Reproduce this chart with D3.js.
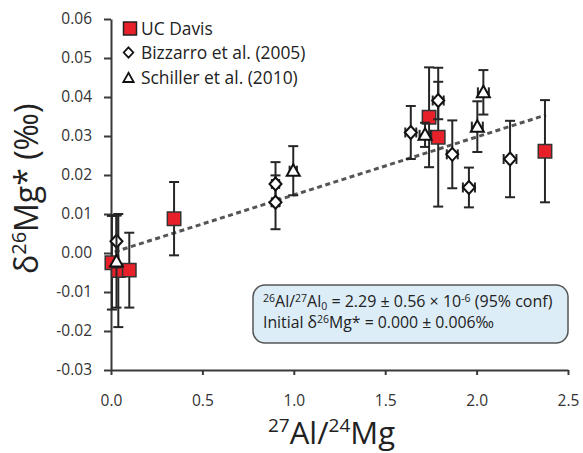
<!DOCTYPE html>
<html>
<head>
<meta charset="utf-8">
<script src="https://cdn.jsdelivr.net/npm/d3@7"></script>
<style>
  body { margin: 0; background: #fff; }
  text { font-family: "Open Sans", sans-serif; }
</style>
</head>
<body>
<div id="chart"></div>
<script>
// UC Davis (red squares)
var ucX   = [0.005, 0.04, 0.10, 0.345, 1.74, 1.79, 2.374];
var ucY   = [-0.0025, -0.0045, -0.0044, 0.0088, 0.0348, 0.0297, 0.0261];
var ucErr = [0.012, 0.0145, 0.0096, 0.0094, 0.0128, 0.0178, 0.0131];

// Bizzarro et al. (2005) (open diamonds)
var bzX    = [0.03, 0.90, 0.90, 1.64, 1.79, 1.867, 1.958, 2.183];
var bzY    = [0.003, 0.0177, 0.0130, 0.0309, 0.0391, 0.0253, 0.0168, 0.0241];
var bzErr  = [0.0067, 0.0056, 0.0069, 0.0068, 0.0048, 0.0087, 0.0051, 0.0098];
var bzXErr = [0, 0.02, 0.02, 0.03, 0.03, 0.03, 0.033, 0.035];

// Schiller et al. (2010) (open triangles)
var scX    = [0.03, 0.997, 1.718, 2.004, 2.037];
var scY    = [-0.0022, 0.0211, 0.0303, 0.0324, 0.0412];
var scErr  = [0.0118, 0.0063, 0.0031, 0.0065, 0.0057];
var scXErr = [0, 0.02, 0.03, 0.03, 0.03];

// isochron fit, end points
var fitX = [0.02, 2.38];
var fitY = [0.0003, 0.0354];

var xTicks = [0, 0.5, 1.0, 1.5, 2.0, 2.5];
var yTicks = [-0.03, -0.02, -0.01, 0, 0.01, 0.02, 0.03, 0.04, 0.05, 0.06];
var legendNames = ["UC Davis", "Bizzarro et al. (2005)", "Schiller et al. (2010)"];

(function(){
  "use strict";
  var width = 583, height = 453;
  var ink = "#262626";

  var svg = d3.select("#chart").append("svg")
      .attr("width", width)
      .attr("height", height);

  var x = d3.scaleLinear().domain([0, 2.5]).range([111, 568]);
  var y = d3.scaleLinear().domain([-0.03, 0.06]).range([370, 19]);

  // axes
  var gx = svg.append("g")
      .attr("transform", "translate(0," + y(-0.03) + ")")
      .call(d3.axisBottom(x).tickValues(xTicks).tickSize(5).tickSizeOuter(0)
        .tickPadding(20).tickFormat(function(d){ return d.toFixed(1); }));
  var gy = svg.append("g")
      .attr("transform", "translate(" + x(0) + ",0)")
      .call(d3.axisLeft(y).tickValues(yTicks).tickSize(7).tickSizeOuter(0)
        .tickPadding(12).tickFormat(function(d){ return d.toFixed(2); }));
  [gx, gy].forEach(function(g){
    g.select(".domain").attr("stroke", "#3a3a3a").attr("stroke-width", 2);
    g.selectAll(".tick line").attr("stroke", "#3a3a3a").attr("stroke-width", 2);
    g.selectAll(".tick text").attr("fill", "#333").style("font-size", "15.5px")
      .style("font-family", "'Open Sans', sans-serif");
  });

  // fit line
  var line = d3.line()
      .x(function(d){ return x(d[0]); })
      .y(function(d){ return y(d[1]); });
  svg.append("path")
      .attr("d", line(d3.zip(fitX, fitY)))
      .attr("fill", "none")
      .attr("stroke", "#555")
      .attr("stroke-width", 3)
      .attr("stroke-dasharray", "5,3.5");

  // error bars
  function errBars(xs, ys, es, xes) {
    var g = svg.append("g").attr("stroke", ink).attr("stroke-width", 2).attr("fill", "none");
    xs.forEach(function(xv, i){
      var cx = x(xv), t = y(ys[i] + es[i]), b = y(ys[i] - es[i]);
      g.append("line").attr("x1", cx).attr("x2", cx).attr("y1", t).attr("y2", b);
      g.append("line").attr("x1", cx - 5).attr("x2", cx + 5).attr("y1", t).attr("y2", t);
      g.append("line").attr("x1", cx - 5).attr("x2", cx + 5).attr("y1", b).attr("y2", b);
      if (xes && xes[i] > 0) {
        var l = x(xv - xes[i]), r = x(xv + xes[i]), cy = y(ys[i]);
        g.append("line").attr("x1", l).attr("x2", r).attr("y1", cy).attr("y2", cy);
        g.append("line").attr("x1", l).attr("x2", l).attr("y1", cy - 5).attr("y2", cy + 5);
        g.append("line").attr("x1", r).attr("x2", r).attr("y1", cy - 5).attr("y2", cy + 5);
      }
    });
  }

  var square = d3.symbol().type(d3.symbolSquare).size(180);
  var diamond = "M0,-6.5L6,0L0,6.5L-6,0Z";
  var triangle = "M0,-6.5L6.5,5L-6.5,5Z";

  function drawSquares(g, xs, ys) {
    g.selectAll("path.sq").data(d3.zip(xs, ys)).enter().append("path")
      .attr("class", "sq")
      .attr("d", square)
      .attr("transform", function(d){ return "translate(" + x(d[0]) + "," + y(d[1]) + ")"; })
      .attr("fill", "#e8202a").attr("stroke", "#333").attr("stroke-width", 1.5);
  }
  function drawShape(g, xs, ys, shape) {
    g.selectAll("path.pt").data(d3.zip(xs, ys)).enter().append("path")
      .attr("class", "pt")
      .attr("d", shape)
      .attr("transform", function(d){ return "translate(" + x(d[0]) + "," + y(d[1]) + ")"; })
      .attr("fill", "#fff").attr("stroke", "#111").attr("stroke-width", 2);
  }

  errBars(ucX, ucY, ucErr, null);
  drawSquares(svg.append("g"), ucX, ucY);
  errBars(bzX, bzY, bzErr, bzXErr);
  drawShape(svg.append("g"), bzX, bzY, diamond);
  errBars(scX, scY, scErr, scXErr);
  drawShape(svg.append("g"), scX, scY, triangle);

  // legend
  var lg = svg.append("g");
  lg.append("rect").attr("x", 123.5).attr("y", 22).attr("width", 13).attr("height", 13)
    .attr("fill", "#e8202a").attr("stroke", "#222").attr("stroke-width", 1.5);
  lg.append("path").attr("d", diamond).attr("transform", "translate(128.5,52.5) scale(0.8)")
    .attr("fill", "#fff").attr("stroke", "#111").attr("stroke-width", 2.2);
  lg.append("path").attr("d", triangle).attr("transform", "translate(128.5,78) scale(0.8)")
    .attr("fill", "#fff").attr("stroke", "#111").attr("stroke-width", 2.2);
  lg.selectAll("text").data(legendNames).enter().append("text")
    .attr("x", 141).attr("y", function(d, i){ return 35 + i * 24.3; })
    .attr("fill", "#222").style("font-size", "17.4px")
    .text(function(d){ return d; });

  // annotation box
  svg.append("rect").attr("x", 253).attr("y", 285).attr("width", 315).attr("height", 58)
    .attr("rx", 12).attr("fill", "#dcedf8").attr("stroke", "#555").attr("stroke-width", 1.5);
  var t1 = svg.append("text").attr("x", 263).attr("y", 307).attr("fill", "#222").style("font-size", "16px");
  t1.append("tspan").attr("font-size", "10.5px").attr("dy", "-5").text("26");
  t1.append("tspan").attr("dy", "5").text("Al/");
  t1.append("tspan").attr("font-size", "10.5px").attr("dy", "-5").text("27");
  t1.append("tspan").attr("dy", "5").text("Al");
  t1.append("tspan").attr("font-size", "10.5px").attr("dy", "3").text("0");
  t1.append("tspan").attr("dy", "-3").text(" = 2.29 \u00b1 0.56 \u00d7 10");
  t1.append("tspan").attr("font-size", "10.5px").attr("dy", "-5").text("-6");
  t1.append("tspan").attr("dy", "5").text(" (95% conf)");
  var t2 = svg.append("text").attr("x", 263).attr("y", 328).attr("fill", "#222").style("font-size", "15.8px");
  t2.append("tspan").text("Initial \u03b4");
  t2.append("tspan").attr("font-size", "10.5px").attr("dy", "-5").text("26");
  t2.append("tspan").attr("dy", "5").text("Mg* = 0.000 \u00b1 0.006\u2030");

  // axis titles
  var xt = svg.append("text").attr("x", 268).attr("y", 443.5).attr("fill", "#222").style("font-size", "31px");
  xt.append("tspan").attr("font-size", "19px").attr("dy", "-12").text("27");
  xt.append("tspan").attr("dy", "12").text("Al/");
  xt.append("tspan").attr("font-size", "19px").attr("dy", "-12").text("24");
  xt.append("tspan").attr("dy", "12").text("Mg");

  var yt = svg.append("text").attr("transform", "translate(38,274) rotate(-90)")
    .attr("fill", "#222").style("font-size", "32px");
  yt.append("tspan").text("\u03b4");
  yt.append("tspan").attr("font-size", "20px").attr("dy", "-12").text("26");
  yt.append("tspan").attr("dy", "12").text("Mg* (\u2030)");
})();
</script>
</body>
</html>
